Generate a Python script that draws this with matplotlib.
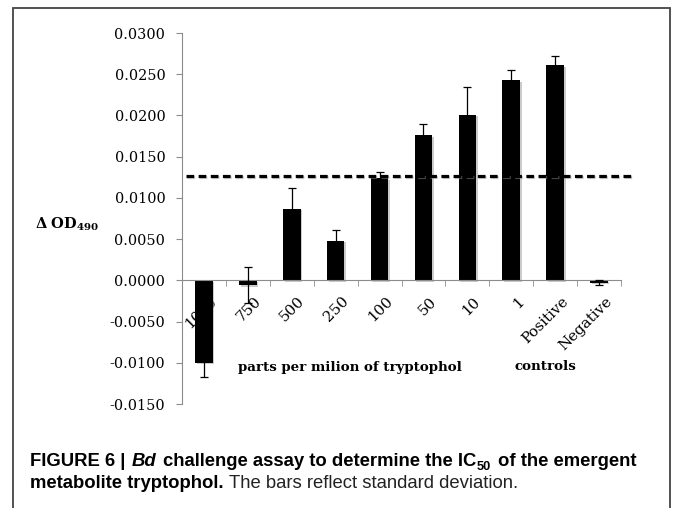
import matplotlib
matplotlib.use("Agg")
import matplotlib.pyplot as plt
import matplotlib.patheffects as pe
import matplotlib.transforms as mtransforms
from matplotlib.patches import Rectangle
import numpy as np

categories = ['1000', '750', '500', '250', '100', '50', '10', '1', 'Positive', 'Negative']
delta_od = [-0.0100, -0.0006, 0.0087, 0.0048, 0.0124, 0.0176, 0.0201, 0.0243, 0.0261, -0.0003]
std_dev = [0.0017, 0.0022, 0.0025, 0.0013, 0.0007, 0.0014, 0.0033, 0.0012, 0.0011, 0.0003]
ic50_level = 0.0127
y_ticks = [-0.015, -0.010, -0.005, 0.0, 0.005, 0.010, 0.015, 0.020, 0.025, 0.030]

W, H = 673, 508
fig = plt.figure(figsize=(W / 100, H / 100), dpi=100)
ax = fig.add_axes([182 / W, 1 - 404 / H, (621 - 182) / W, (404 - 33) / H])

shadow = [pe.SimplePatchShadow(offset=(1.2, -1.2), shadow_rgbFace='#999999', alpha=0.5), pe.Normal()]

x = np.arange(len(categories))
bars = ax.bar(x, delta_od, width=0.4, color='black', zorder=1)
for b in bars:
    b.set_path_effects(shadow)
ax.errorbar(x, delta_od, yerr=std_dev, fmt='none', ecolor='black', elinewidth=0.9,
            capsize=2.8, capthick=0.9, zorder=3)

ax.plot([-0.41, 9.75], [ic50_level, ic50_level], color='black', lw=2.3,
        ls=(0, (2.4, 1.4)), clip_on=False, zorder=4,
        path_effects=[pe.SimpleLineShadow(offset=(1, -1), shadow_color='#999999', alpha=0.5), pe.Normal()])

ax.set_xlim(-0.5, 9.5)
ax.set_ylim(-0.015, 0.030)
ax.set_axisbelow(True)

for side in ['top', 'right']:
    ax.spines[side].set_visible(False)
ax.spines['bottom'].set_position(('data', 0))
ax.spines['left'].set_color('#8c8c8c')
ax.spines['bottom'].set_color('#8c8c8c')

ax.set_yticks(y_ticks)
ax.set_yticklabels([f"{v:.4f}" for v in y_ticks], family='DejaVu Serif', fontsize=10.4)
ax.tick_params(axis='y', direction='out', length=4, color='#8c8c8c', pad=8)

ax.set_xticks(x)
ax.set_xticks(np.arange(-0.5, 10, 1), minor=True)
ax.set_xticklabels(categories, rotation=45, ha='right', rotation_mode='anchor',
                   family='DejaVu Serif', fontsize=10.8)
ax.tick_params(axis='x', which='major', length=0, pad=10)
ax.tick_params(axis='x', which='minor', direction='out', length=4, color='#8c8c8c')
offset = mtransforms.ScaledTranslation(6 / 100, 0, fig.dpi_scale_trans)
for lbl in ax.get_xticklabels():
    lbl.set_transform(lbl.get_transform() + offset)

px = mtransforms.IdentityTransform()

fig.text(350, H - 367, 'parts per milion of tryptophol', transform=px, ha='center', va='center',
         family='DejaVu Serif', fontweight='bold', fontsize=9.6)
fig.text(545, H - 367, 'controls', transform=px, ha='center', va='center',
         family='DejaVu Serif', fontweight='bold', fontsize=9.6)
fig.text(67, H - 224, r'$\mathbf{\Delta\ OD_{490}}$', transform=px, ha='center', va='center',
         fontsize=10.5, math_fontfamily='dejavuserif')

fig.add_artist(Rectangle((12.5, -5), 670 - 12.5, H - 7.5 + 5, transform=px,
                         fill=False, ec='#444444', lw=1.3))

renderer = fig.canvas.get_renderer()
cap_font = 'Liberation Sans'


def text_width(s, **kw):
    t = fig.text(0, 0, s, transform=px, **kw)
    w = t.get_window_extent(renderer).width
    t.remove()
    return w


def draw_runs(runs, x0, y0):
    xc = x0
    for s, kw, gap, dy in runs:
        xc += gap
        t = fig.text(xc, y0 + dy, s, transform=px, va='baseline', family=cap_font, **kw)
        xc += t.get_window_extent(renderer).width


fs = 13.3
bold = dict(fontsize=fs, fontweight='bold', color='black')
boldit = dict(fontsize=fs, fontweight='bold', style='italic', color='black')
sub = dict(fontsize=fs * 0.7, fontweight='bold', color='black')
plain = dict(fontsize=fs, color='#222222')
sp_b = text_width('x x', **bold) - text_width('xx', **bold)
sp_p = text_width('x x', **plain) - text_width('xx', **plain)

draw_runs([
    ('FIGURE 6 |', bold, 0, 0),
    ('Bd', boldit, sp_b, 0),
    ('challenge assay to determine the IC', bold, sp_b, 0),
    ('50', sub, 0.5, -3.5),
    ('of the emergent', bold, sp_b, 0),
], 30, H - 466)
draw_runs([
    ('metabolite tryptophol.', bold, 0, 0),
    ('The bars reflect standard deviation.', plain, sp_p, 0),
], 30, H - 488)

fig.savefig('out.png', dpi=100)
